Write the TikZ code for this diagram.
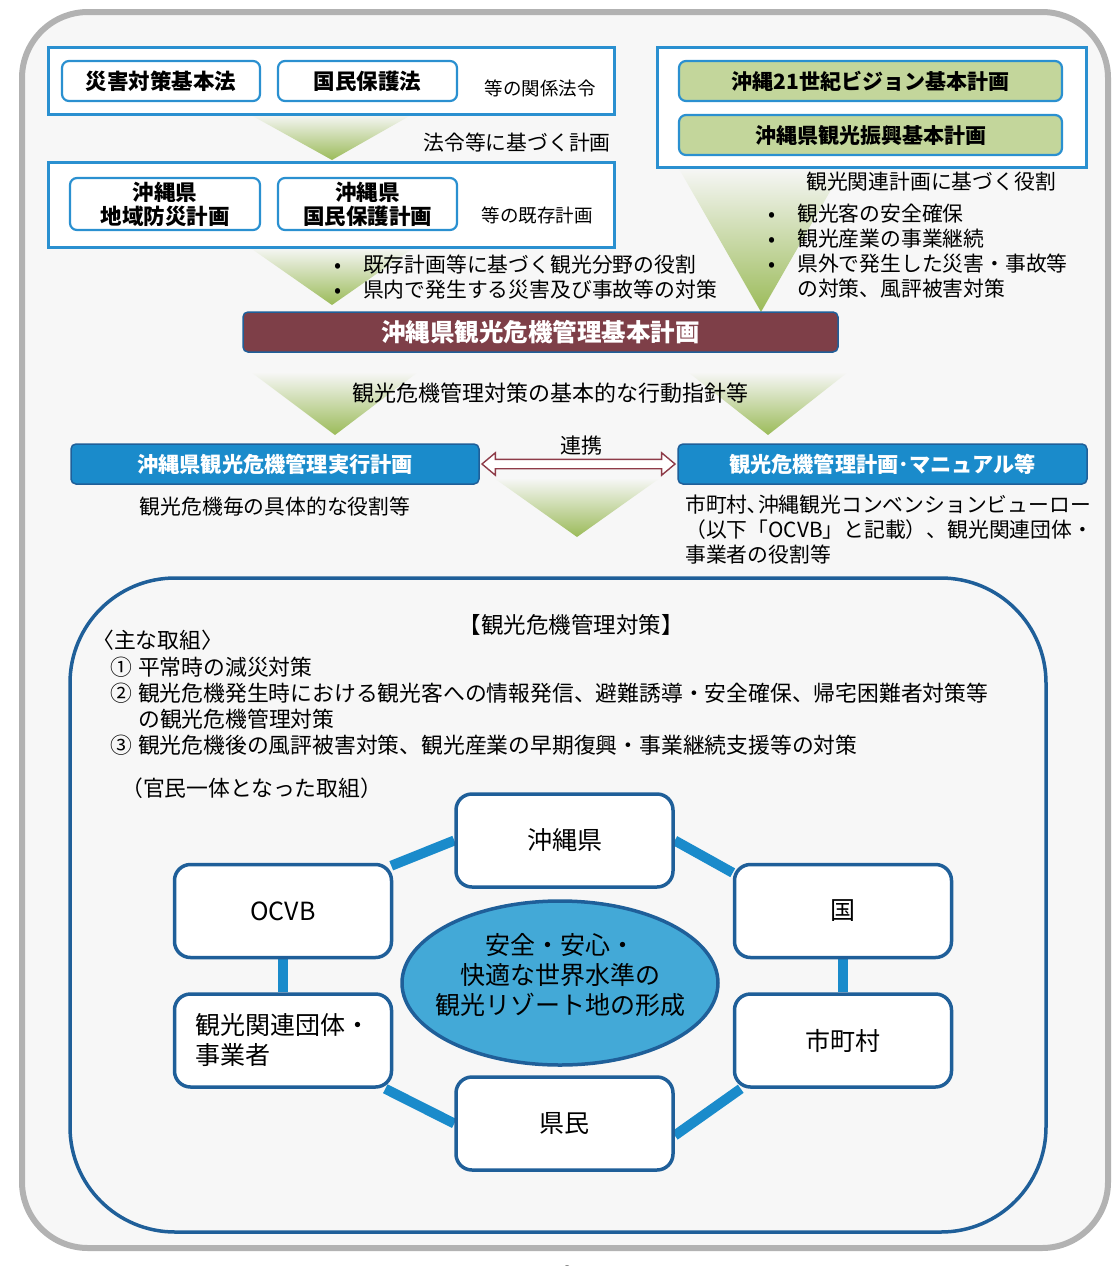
\documentclass[tikz,border=0pt]{standalone}
\usepackage{fontspec}
\setmainfont{Noto Sans CJK JP}
\usetikzlibrary{shapes.geometric,shapes.arrows,calc}
\pgfdeclarelayer{pagelayer}
\pgfdeclarelayer{linklayer}
\pgfsetlayers{pagelayer,linklayer,main}
\definecolor{pagebg}{HTML}{F7F7F7}
\definecolor{pageedge}{HTML}{B2B2B2}
\definecolor{frameblue}{HTML}{2A90D0}
\definecolor{greenfill}{HTML}{C3D69B}
\definecolor{maroon}{HTML}{7E3F48}
\definecolor{darkblue}{HTML}{1F5F99}
\definecolor{boxblue}{HTML}{1A8BCB}
\definecolor{ellfill}{HTML}{43A9D7}
\definecolor{linkred}{HTML}{8E3B48}
\definecolor{arrgreen}{HTML}{9BBB59}
\definecolor{arrmid}{HTML}{D6E5C0}
\begin{document}
\begin{tikzpicture}[x=1pt,y=-1pt,
  frame/.style={draw=frameblue,line width=3,fill=white,minimum width=#1},
  lawbox/.style={draw=frameblue,line width=2.2,rounded corners=7,fill=white,align=center,inner sep=0,
    font=\bfseries\fontsize{21.5}{25}\selectfont},
  greenbox/.style={lawbox,fill=greenfill,font=\bfseries\fontsize{21}{25}\selectfont,minimum width=383,minimum height=40},
  bluebox/.style={draw=darkblue,line width=1.5,rounded corners=5,fill=boxblue,text=white,inner sep=0,
    font=\bfseries\fontsize{21.2}{25}\selectfont,minimum height=40},
  txt/.style={inner sep=0,font=\fontsize{20.8}{25}\selectfont},
  smalltxt/.style={inner sep=0,font=\fontsize{18.5}{22}\selectfont},
  bodytxt/.style={inner sep=0,font=\fontsize{21.8}{26}\selectfont,align=left},
  ringbox/.style={draw=darkblue,line width=3.5,rounded corners=16,fill=white,inner sep=0,
    minimum width=217,minimum height=93,font=\fontsize{25}{30}\selectfont},
  ringlink/.style={draw=boxblue,line width=10},
  funnel/.style={top color=pagebg,middle color=arrmid,bottom color=arrgreen}
]
\useasboundingbox (0,0) rectangle (1118,1266);
% page
\begin{pgfonlayer}{pagelayer}
\draw[pageedge,line width=6,fill=pagebg,rounded corners=66] (22,12) rectangle (1108,1248);
\end{pgfonlayer}
\node[inner sep=0,font=\fontsize{20}{24}\selectfont] (pagenum) at (568,1273) {2};

% funnels
\shade[funnel] (249,114) -- (413,114) -- (332,160) -- cycle;
\shade[funnel] (249,247) -- (415,247) -- (332,305) -- cycle;
\shade[funnel] (678,167) -- (844,167) -- (761,312) -- cycle;
\shade[funnel] (251,372) -- (418,372) -- (335,435) -- cycle;
\shade[funnel] (688,372) -- (848,372) -- (768,435) -- cycle;
\shade[funnel] (494,478) -- (660,478) -- (577,537) -- cycle;

% top left frames
\node[frame=566,minimum height=67] (laws) at (331,80.5) {};
\node[lawbox,minimum width=198,minimum height=40] (law1) at (161,81) {災害対策基本法};
\node[lawbox,minimum width=179,minimum height=40] (law2) at (367.5,81) {国民保護法};
\node[smalltxt] (lawsnote) at (540,88) {等の関係法令};
\node[txt] (basis) at (517,143) {法令等に基づく計画};

\node[frame=566,minimum height=85] (plans) at (331,204.5) {};
\node[lawbox,minimum width=190,minimum height=52,font=\bfseries\fontsize{21.5}{24}\selectfont] (plan1) at (165,204) {沖縄県\\地域防災計画};
\node[lawbox,minimum width=179,minimum height=52,font=\bfseries\fontsize{21.5}{24}\selectfont] (plan2) at (367.5,204) {沖縄県\\国民保護計画};
\node[smalltxt] (plansnote) at (537,215) {等の既存計画};

\node[txt,anchor=west,align=left] (roles1) at (334,277.5)
  {\makebox[29pt][l]{•}既存計画等に基づく観光分野の役割\\\makebox[29pt][l]{•}県内で発生する災害及び事故等の対策};

% top right frame
\node[frame=429,minimum height=120] (tour) at (871.5,107) {};
\node[greenbox] (vision) at (870.5,81) {沖縄21世紀ビジョン基本計画};
\node[greenbox] (promo) at (870.5,135) {沖縄県観光振興基本計画};
\node[txt] (tourhead) at (931,182) {観光関連計画に基づく役割};
\node[txt,anchor=west,align=left] (roles2) at (768,251.5)
  {\makebox[29pt][l]{•}観光客の安全確保\\\makebox[29pt][l]{•}観光産業の事業継続\\\makebox[29pt][l]{•}県外で発生した災害・事故等\\\hspace*{29pt}の対策、風評被害対策};

% main plan
\node[draw=darkblue,line width=1.5,rounded corners=5,fill=maroon,text=white,inner sep=0,
  minimum width=595,minimum height=40,font=\bfseries\fontsize{24.5}{28}\selectfont] (master) at (540.5,332) {沖縄県観光危機管理基本計画};
\node[txt,font=\fontsize{22}{26}\selectfont] (guide) at (550,393) {観光危機管理対策の基本的な行動指針等};

% second level
\node[bluebox,minimum width=408] (exec) at (275,464) {沖縄県観光危機管理実行計画};
\node[bluebox,minimum width=409] (manual) at (882.5,464) {観光危機管理計画･マニュアル等};
\node[double arrow,draw=linkred,fill=white,line width=1.4,inner sep=4,
  minimum width=21,minimum height=193,double arrow head extend=6.5,double arrow tip angle=80] (link)
  at ($(exec.east)!0.5!(manual.west)$) {};
\node[txt,font=\fontsize{21}{25}\selectfont] (linklbl) at (581,446) {連携};
\node[txt] (execnote) at (275,507) {観光危機毎の具体的な役割等};
\node[txt,anchor=west,align=left] (manualnote) at (685,530)
  {市町村､沖縄観光コンベンションビューロー\\（以下「OCVB」と記載）、観光関連団体・\\事業者の役割等};

% big frame
\draw[darkblue,line width=3.5,rounded corners=105] (70,578) rectangle (1046,1232);
\node[txt,font=\fontsize{22.5}{26}\selectfont] (title) at (571,625) {【観光危機管理対策】};
\node[bodytxt,anchor=west] (mainhead) at (92,640) {〈主な取組〉};
\node[bodytxt,anchor=west] (items) at (110,706)
  {\makebox[28pt][l]{①}平常時の減災対策\\
   \makebox[28pt][l]{②}観光危機発生時における観光客への情報発信、避難誘導・安全確保、帰宅困難者対策等\\
   \hspace*{28pt}の観光危機管理対策\\
   \makebox[28pt][l]{③}観光危機後の風評被害対策、観光産業の早期復興・事業継続支援等の対策};
\node[bodytxt,anchor=west] (joint) at (121,788) {（官民一体となった取組）};

% ring
\node[ringbox] (oki) at (564.5,840.5) {沖縄県};
\node[ringbox] (ocvb) at (283,911) {OCVB};
\node[ringbox] (kuni) at (843,911) {国};
\node[ringbox,align=left,text width=175] (kanko) at (283,1040.5) {観光関連団体・\\事業者};
\node[ringbox] (shi) at (843,1040.5) {市町村};
\node[ringbox] (ken) at (564.5,1123.5) {県民};
\begin{pgfonlayer}{linklayer}
\path[ringlink] (oki.west) -- ($(ocvb.north east)+(-2,3)$);
\path[ringlink] (oki.east) -- ($(kuni.north west)+(0,10)$);
\path[ringlink] (ocvb.south) -- (kanko.north -| ocvb.south);
\path[ringlink] (kuni.south) -- (shi.north);
\path[ringlink] ($(kanko.south east)+(-8,0)$) -- (ken.west);
\path[ringlink] ($(shi.south west)+(8,0)$) -- ($(ken.east)+(0,12)$);
\end{pgfonlayer}
\node[draw=darkblue,line width=3.5,fill=ellfill,ellipse,inner sep=0,minimum width=316,minimum height=164,
  label={[name=goaltext,inner sep=0,align=center,font=\fontsize{25}{30}\selectfont,yshift=8]center:安全・安心・\\快適な世界水準の\\観光リゾート地の形成}]
  (goal) at (560,983) {};
\end{tikzpicture}
\end{document}
